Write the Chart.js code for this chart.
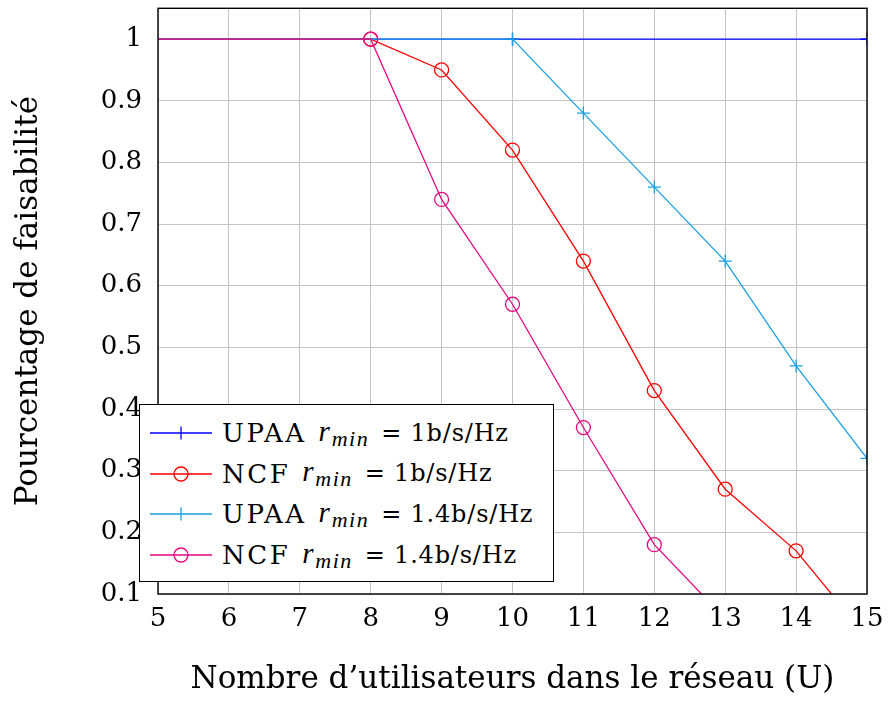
<!DOCTYPE html>
<html>
<head>
<meta charset="utf-8">
<script src="https://cdn.jsdelivr.net/npm/chart.js@4/dist/chart.umd.min.js"></script>
<style>
  html, body { margin: 0; padding: 0; background: #fff; }
  #wrap { position: relative; width: 888px; height: 704px; }
  #legend {
    position: absolute; left: 139px; top: 404px; width: 413px; height: 176px;
    border: 1.3px solid #000; background: #fff; box-sizing: content-box;
    font-family: "DejaVu Serif", serif; color: #000;
  }
  .row { position: absolute; left: 10px; height: 40px; display: flex; align-items: center; white-space: nowrap; }
  .row svg { margin-right: 10px; }
  .name { font-size: 26px; letter-spacing: 2.5px; }
  .math { font-family: "DejaVu Serif", serif; font-size: 24px; margin-left: 12px; letter-spacing: 0.8px; }
  .math i { font-family: "Liberation Serif", serif; font-size: 29px; }
  .math sub { font-family: "Liberation Serif", serif; font-size: 22px; font-style: italic; vertical-align: -5px; margin: 0 12px 0 1px; letter-spacing: 1.5px; }
</style>
</head>
<body>
<div id="wrap">
  <canvas id="chart" width="888" height="704"></canvas>
  <div id="legend"></div>
</div>
<script>
const seriesNames = ["UPAA", "NCF", "UPAA", "NCF"];
const seriesRates = ["1", "1", "1.4", "1.4"];

const upaa1X = [5, 10, 15];
const upaa1Y = [1, 1, 1];
const ncf1X = [5, 8, 9, 10, 11, 12, 13, 14, 15];
const ncf1Y = [1, 1, 0.95, 0.82, 0.64, 0.43, 0.27, 0.17, 0.03];
const upaa14X = [5, 10, 11, 12, 13, 14, 15];
const upaa14Y = [1, 1, 0.88, 0.76, 0.64, 0.47, 0.32];
const ncf14X = [5, 8, 9, 10, 11, 12, 13];
const ncf14Y = [1, 1, 0.74, 0.57, 0.37, 0.18, 0.06];

const xTicks = [5, 6, 7, 8, 9, 10, 11, 12, 13, 14, 15];
const yTicks = [0.1, 0.2, 0.3, 0.4, 0.5, 0.6, 0.7, 0.8, 0.9, 1];

const colors = ["#0000ff", "#ff0000", "#1a9fe6", "#e5097f"];
const shapes = ["cross", "circle", "cross", "circle"];

const toPoints = (xs, ys) => xs.map((x, i) => ({ x: x, y: ys[i] }));
const FONT = "'DejaVu Serif', serif";

const makeSet = (i, xs, ys) => ({
    label: seriesNames[i] + " r_min = " + seriesRates[i] + "b/s/Hz",
    data: toPoints(xs, ys),
    order: 3 - i,
    borderColor: colors[i],
    backgroundColor: "transparent",
    borderWidth: 1.3,
    pointStyle: shapes[i],
    pointBorderColor: colors[i],
    pointBackgroundColor: "transparent",
    pointBorderWidth: 1.3,
    pointRadius: (ctx) => (ctx.raw && ctx.raw.x === 5 ? 0 : (shapes[i] === "circle" ? 7 : 6.5)),
    pointHoverRadius: 0,
    tension: 0,
});

const frame = {
    id: "frame",
    afterDraw(chart) {
        const { ctx, chartArea: a } = chart;
        ctx.save();
        ctx.strokeStyle = "#000";
        ctx.lineWidth = 1.4;
        ctx.strokeRect(a.left, a.top, a.right - a.left, a.bottom - a.top);
        ctx.restore();
    },
};

const chart = new Chart(document.getElementById("chart"), {
    type: "line",
    data: {
        datasets: [
            makeSet(0, upaa1X, upaa1Y),
            makeSet(1, ncf1X, ncf1Y),
            makeSet(2, upaa14X, upaa14Y),
            makeSet(3, ncf14X, ncf14Y),
        ],
    },
    options: {
        responsive: false,
        animation: false,
        layout: { padding: { top: 5, right: 21, left: 0, bottom: 0 } },
        plugins: { legend: { display: false }, tooltip: { enabled: false } },
        scales: {
            x: {
                type: "linear",
                min: 5,
                max: 15,
                afterBuildTicks: (scale) => { scale.ticks = xTicks.map((v) => ({ value: v })); },
                afterFit: (scale) => {
                    scale.height = 110;
                    scale.paddingLeft = 0;
                    scale.paddingRight = 0;
                },
                grid: { color: "#c4c4c4", lineWidth: 1, drawTicks: false },
                border: { display: false },
                ticks: { color: "#000", font: { family: FONT, size: 26 }, padding: 10, maxRotation: 0 },
                title: {
                    display: true,
                    text: "Nombre d\u2019utilisateurs dans le r\u00e9seau (U)",
                    color: "#000",
                    font: { family: FONT, size: 31 },
                    padding: { top: 0, bottom: 5 },
                },
            },
            y: {
                type: "linear",
                min: 0.1,
                max: 1.05,
                afterBuildTicks: (scale) => { scale.ticks = yTicks.map((v) => ({ value: v })); },
                afterFit: (scale) => {
                    scale.width = 158;
                    scale.paddingTop = 0;
                    scale.paddingBottom = 0;
                },
                grid: { color: "#c4c4c4", lineWidth: 1, drawTicks: false },
                border: { display: false },
                ticks: {
                    color: "#000",
                    font: { family: FONT, size: 26 },
                    padding: 16,
                    callback: (v) => String(Number(v.toFixed(2))),
                },
                title: {
                    display: true,
                    text: "Pourcentage de faisabilit\u00e9",
                    color: "#000",
                    font: { family: FONT, size: 31 },
                    padding: { top: 10, bottom: 0 },
                },
            },
        },
    },
    plugins: [frame],
});

// HTML legend, built from the datasets
const legend = document.getElementById("legend");
chart.data.datasets.forEach((ds, i) => {
    const row = document.createElement("div");
    row.className = "row";
    row.style.top = (8 + i * 40.7) + "px";
    const c = ds.borderColor;
    const marker = shapes[i] === "circle"
        ? `<circle cx="31" cy="10" r="7" fill="none" stroke="${c}" stroke-width="1.3"/>`
        : `<line x1="31" y1="3.5" x2="31" y2="16.5" stroke="${c}" stroke-width="1.3"/>`;
    row.innerHTML =
        `<svg width="62" height="20"><line x1="0" y1="10" x2="62" y2="10" stroke="${c}" stroke-width="1.3"/>${marker}</svg>` +
        `<span class="name">${seriesNames[i]}</span>` +
        `<span class="math"><i>r</i><sub>min</sub>= ${seriesRates[i]}b/s/Hz</span>`;
    legend.appendChild(row);
});
</script>
</body>
</html>
